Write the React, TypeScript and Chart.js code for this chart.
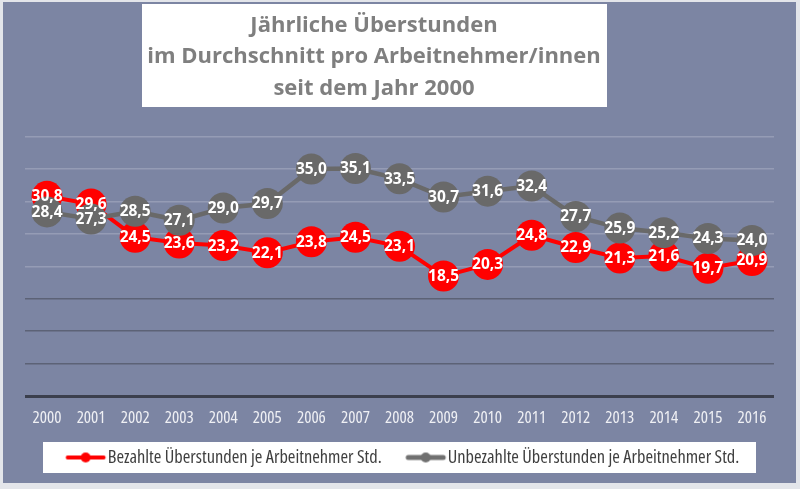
import React, { useEffect, useRef } from "react";
import { Chart, registerables } from "chart.js";

Chart.register(...registerables);

const years = ["2000", "2001", "2002", "2003", "2004", "2005", "2006", "2007", "2008", "2009", "2010", "2011", "2012", "2013", "2014", "2015", "2016"];
const paidHours = [30.8, 29.6, 24.5, 23.6, 23.2, 22.1, 23.8, 24.5, 23.1, 18.5, 20.3, 24.8, 22.9, 21.3, 21.6, 19.7, 20.9];
const unpaidHours = [28.4, 27.3, 28.5, 27.1, 29.0, 29.7, 35.0, 35.1, 33.5, 30.7, 31.6, 32.4, 27.7, 25.9, 25.2, 24.3, 24.0];
const seriesNames = ["Bezahlte Überstunden je Arbeitnehmer Std.", "Unbezahlte Überstunden je Arbeitnehmer Std."];
const titleLines = ["Jährliche Überstunden", "im Durchschnitt pro Arbeitnehmer/innen", "seit dem Jahr 2000"];
const yMin = 0;
const yMax = 40;
const yStep = 5;

const RED = "#ff0000";
const GRAY = "#696969";
const BG = "#7c85a3";
const SANS = "'Open Sans', 'Noto Sans', sans-serif";

function makeLegendIcon(color: string, lw: number): HTMLCanvasElement {
  const c = document.createElement("canvas");
  c.width = 66;
  c.height = 18;
  const g = c.getContext("2d")!;
  g.strokeStyle = color;
  g.lineWidth = lw;
  g.lineCap = "round";
  g.beginPath();
  g.moveTo(24.45 + lw / 2, 9);
  g.lineTo(64.45 - lw / 2, 9);
  g.stroke();
  g.fillStyle = color;
  g.beginPath();
  g.arc(44.45, 9, 5, 0, Math.PI * 2);
  g.fill();
  return c;
}

const backgroundPlugin = {
  id: "bgBoxes",
  beforeDraw(chart: any) {
    const ctx = chart.ctx as CanvasRenderingContext2D;
    ctx.save();
    ctx.fillStyle = "#e3e5ea";
    ctx.fillRect(0, 0, chart.width, chart.height);
    ctx.fillStyle = BG;
    ctx.fillRect(3, 2, 793, 481);
    ctx.fillStyle = "#ffffff";
    ctx.fillRect(142, 4, 465, 103);
    ctx.fillRect(43, 442, 713, 31);
    ctx.fillStyle = "#7f7f7f";
    ctx.font = `bold 22px ${SANS}`;
    ctx.textAlign = "center";
    ctx.textBaseline = "alphabetic";
    const baselines = [31.5, 63, 94.5];
    titleLines.forEach((t, i) => ctx.fillText(t, 374, baselines[i]));
    ctx.restore();
  },
};

const valueLabelPlugin = {
  id: "valueLabels",
  afterDatasetsDraw(chart: any) {
    const ctx = chart.ctx as CanvasRenderingContext2D;
    ctx.save();
    ctx.fillStyle = "#ffffff";
    ctx.font = `bold 15.5px ${SANS}`;
    ctx.textAlign = "center";
    ctx.textBaseline = "middle";
    chart.data.datasets.forEach((ds: any, di: number) => {
      const meta = chart.getDatasetMeta(di);
      meta.data.forEach((el: any, i: number) => {
        const v = ds.data[i] as number;
        ctx.fillText(v.toFixed(1).replace(".", ","), el.x, el.y + 0.5);
      });
    });
    ctx.restore();
  },
};

export default function App() {
  const ref = useRef<HTMLCanvasElement>(null);
  useEffect(() => {
    document.body.style.margin = "0";
    const icons = [makeLegendIcon(RED, 4), makeLegendIcon("#707070", 5)];
    const chart = new Chart(ref.current!, {
      type: "line",
      data: {
        labels: years,
        datasets: [
          {
            label: seriesNames[0],
            data: paidHours,
            borderColor: RED,
            backgroundColor: RED,
            borderWidth: 4,
            pointRadius: 15.5,
            pointHoverRadius: 15.5,
            pointBackgroundColor: RED,
            pointBorderColor: RED,
            pointBorderWidth: 0,
            tension: 0,
            order: 2,
          },
          {
            label: seriesNames[1],
            data: unpaidHours,
            borderColor: GRAY,
            backgroundColor: GRAY,
            borderWidth: 4.5,
            pointRadius: 15.5,
            pointHoverRadius: 15.5,
            pointBackgroundColor: GRAY,
            pointBorderColor: GRAY,
            pointBorderWidth: 0,
            tension: 0,
            order: 1,
          },
        ],
      },
      options: {
        responsive: false,
        devicePixelRatio: 1,
        animation: false,
        events: [],
        layout: { padding: { top: 136.7, left: 15.3, right: 26, bottom: 12.3 } },
        scales: {
          x: {
            offset: true,
            grid: { display: false, drawTicks: false },
            border: { display: false },
            ticks: {
              color: "#eff0f4",
              font: { family: SANS, size: 17, weight: "condensed" },
              padding: 11.8,
              maxRotation: 0,
              autoSkip: false,
            },
          },
          y: {
            min: yMin,
            max: yMax,
            border: { display: false },
            ticks: { display: false, stepSize: yStep },
            afterFit: (s: any) => {
              s.width = 9.7;
            },
            grid: {
              drawTicks: false,
              color: (c: any) => {
                const v = c.tick ? c.tick.value : 0;
                if (v === 0) return "#3b3f4d";
                if (v >= 20) return "#959cb5";
                return "#5c6276";
              },
              lineWidth: (c: any) => (c.tick && c.tick.value === 0 ? 3 : 1.5),
            },
          },
        },
        plugins: {
          title: { display: false },
          tooltip: { enabled: false },
          legend: {
            display: true,
            position: "bottom",
            labels: {
              usePointStyle: true,
              pointStyleWidth: 48.5,
              padding: 8.3,
              color: "#3f3f3f",
              font: { family: SANS, size: 18.4, weight: "condensed" },
              sort: (a: any, b: any) => a.datasetIndex - b.datasetIndex,
              generateLabels: (ch: any) => {
                const items = (Chart.defaults.plugins.legend.labels as any).generateLabels(ch);
                items.forEach((it: any) => {
                  it.pointStyle = icons[it.datasetIndex];
                });
                return items;
              },
            },
          },
        },
      },
      plugins: [backgroundPlugin, valueLabelPlugin],
    } as any);
    return () => chart.destroy();
  }, []);
  return (
    <div style={{ position: "absolute", left: 0, top: 0, width: 800, height: 489 }}>
      <canvas ref={ref} width={800} height={489} style={{ display: "block", width: 800, height: 489 }} />
    </div>
  );
}
